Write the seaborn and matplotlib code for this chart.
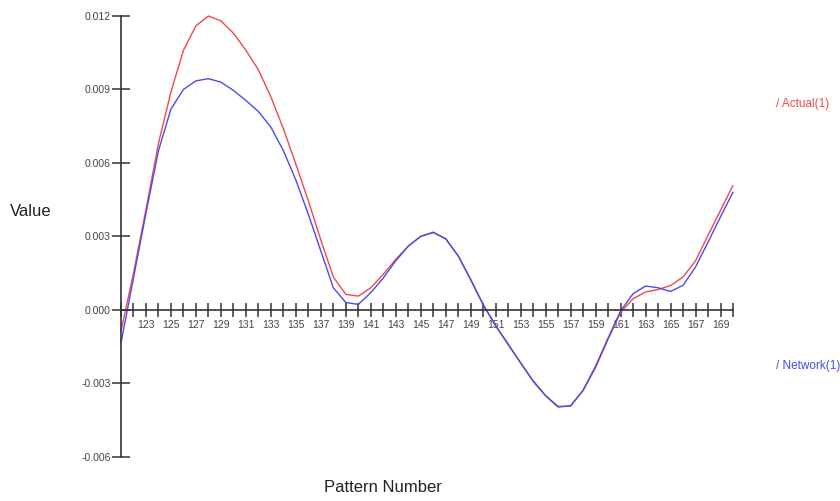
import matplotlib
matplotlib.use("Agg")
import matplotlib.pyplot as plt
import seaborn as sns
import pandas as pd
from matplotlib.ticker import FixedLocator, NullFormatter

pattern = list(range(121, 171))
actual = [-0.00087, 0.0015, 0.0041, 0.0068, 0.0089, 0.0106, 0.0116, 0.0120, 0.0118, 0.0113,
          0.0106, 0.0098, 0.0087, 0.0074, 0.00595, 0.00445, 0.00285, 0.00134, 0.00063, 0.00056,
          0.0009, 0.00145, 0.00206, 0.0026, 0.0030, 0.00315, 0.0029, 0.0022, 0.00125, 0.00022,
          -0.00064, -0.0014, -0.00216, -0.0029, -0.0035, -0.00395, -0.00393, -0.0033, -0.00236, -0.0012,
          -0.0001, 0.00045, 0.00073, 0.00083, 0.00099, 0.00134, 0.0020, 0.00304, 0.00406, 0.00508]
network = [-0.00135, 0.0013, 0.00395, 0.0065, 0.0082, 0.0090, 0.00935, 0.00944, 0.0093, 0.00896,
           0.00855, 0.0081, 0.00746, 0.0065, 0.0053, 0.0039, 0.0024, 0.0009, 0.0003, 0.00022,
           0.0007, 0.0013, 0.0020, 0.0026, 0.0030, 0.00317, 0.0029, 0.0022, 0.00122, 0.0002,
           -0.00066, -0.00142, -0.00218, -0.00292, -0.00352, -0.00397, -0.00392, -0.00328, -0.0023, -0.00115,
           -0.00005, 0.00066, 0.00097, 0.0009, 0.00075, 0.0010, 0.00175, 0.00276, 0.0038, 0.0048]
series_names = ["Actual(1)", "Network(1)"]
series_colors = ["#ee4a4a", "#4a4aee"]
y_ticks = [-0.006, -0.003, 0.0, 0.003, 0.006, 0.009, 0.012]
x_labelled = list(range(123, 171, 2))

df = pd.DataFrame({
    "Pattern": pattern * 2,
    "Value": actual + network,
    "Series": [series_names[0]] * len(pattern) + [series_names[1]] * len(pattern),
})

sns.set_style("white")
plt.rcParams["font.family"] = ["Liberation Sans", "DejaVu Sans"]

fig = plt.figure(figsize=(8.4, 5.01), dpi=100)
ax = fig.add_axes([121 / 840, 1 - 456.7 / 501, (733 - 121) / 840, (456.7 - 16) / 501])

sns.lineplot(data=df, x="Pattern", y="Value", hue="Series", palette=series_colors,
             hue_order=series_names, legend=False, ax=ax, linewidth=1.0)
for ln in ax.lines:
    ln.set_clip_on(False)

ax.set_xlim(121, 170)
ax.set_ylim(-0.006, 0.012)
ax.set_xlabel("")
ax.set_ylabel("")

for s in ["top", "right"]:
    ax.spines[s].set_visible(False)
ax.spines["bottom"].set_position(("data", 0))
for s in ["left", "bottom"]:
    ax.spines[s].set_color("#333333")
    ax.spines[s].set_linewidth(1.2)

ax.set_yticks(y_ticks)
ax.set_yticklabels([f"{v:.3f}" for v in y_ticks])
ax.xaxis.set_major_locator(FixedLocator(x_labelled))
ax.set_xticklabels([str(v) for v in x_labelled])
ax.xaxis.set_minor_locator(FixedLocator([p for p in pattern if p not in x_labelled]))
ax.xaxis.set_minor_formatter(NullFormatter())

ax.tick_params(axis="y", left=True, direction="inout", length=13, width=1.1, color="#333333",
               labelsize=7.5, labelcolor="#444444", pad=1)
ax.tick_params(axis="x", which="both", bottom=True, direction="inout", length=10, width=1.1,
               color="#333333", labelsize=7.5, labelcolor="#444444", pad=2)
ax.set_facecolor("white")

fig.text(31 / 840, 1 - 211 / 501, "Value", ha="center", va="center", fontsize=12, color="#222222")
fig.text(383 / 840, 1 - 488 / 501, "Pattern Number", ha="center", va="center", fontsize=12, color="#222222")
fig.text(776 / 840, 1 - 104 / 501, "/ " + series_names[0], ha="left", va="center", fontsize=8.5,
         color=series_colors[0])
fig.text(776 / 840, 1 - 366 / 501, "/ " + series_names[1], ha="left", va="center", fontsize=8.5,
         color=series_colors[1])

fig.savefig("out.png", dpi=100, facecolor="white")
